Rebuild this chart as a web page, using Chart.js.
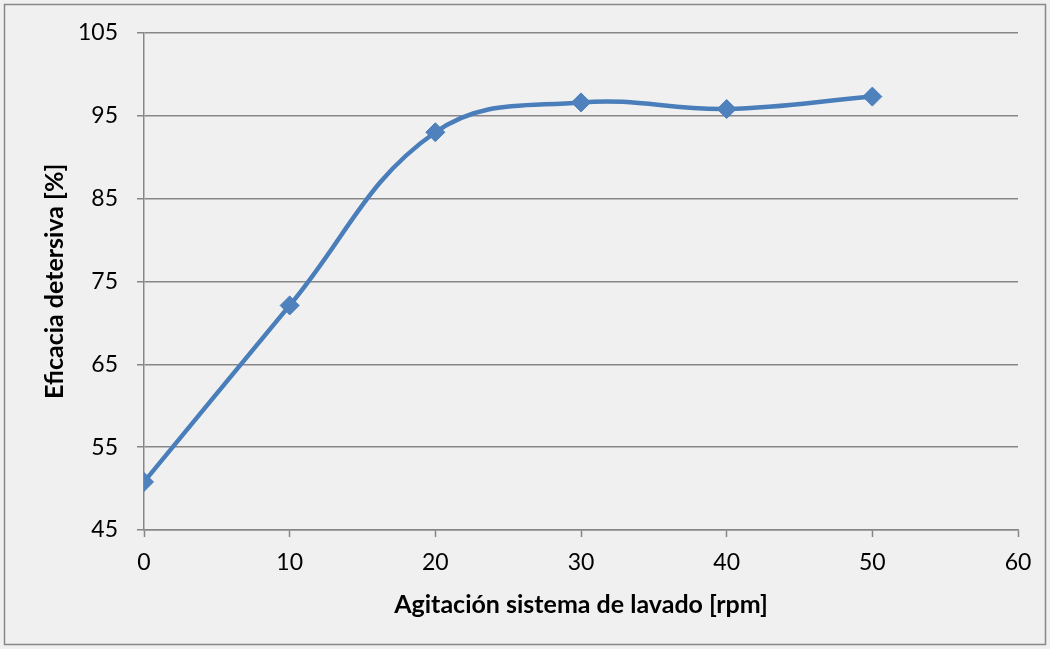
<!DOCTYPE html>
<html>
<head>
<meta charset="utf-8">
<script src="https://cdn.jsdelivr.net/npm/chart.js@4/dist/chart.umd.min.js"></script>
<style>
  html, body { margin: 0; padding: 0; background: #f0f0f0; }
  #wrap { width: 1050px; height: 649px; position: relative; }
</style>
</head>
<body>
<div id="wrap"><canvas id="c" width="1050" height="649"></canvas></div>
<script>
const agitacion = [0, 10, 20, 30, 40, 50];
const eficacia = [50.8, 72.1, 93.0, 96.6, 95.8, 97.3];
const xTitle = 'Agitación sistema de lavado [rpm]';
const yTitle = 'Eficacia detersiva [%]';

const FONT = 'Lato, "Open Sans", sans-serif';
const GRID = '#878787';

const bgPlugin = {
  id: 'bg',
  beforeDraw(chart) {
    const ctx = chart.ctx;
    ctx.save();
    ctx.fillStyle = '#f0f0f0';
    ctx.fillRect(0, 0, chart.width, chart.height);
    ctx.strokeStyle = '#878787';
    ctx.lineWidth = 1.5;
    ctx.strokeRect(4.5, 4.5, 1041, 640);
    ctx.restore();
  }
};

new Chart(document.getElementById('c'), {
  type: 'line',
  data: {
    datasets: [{
      data: agitacion.map((x, i) => ({ x: x, y: eficacia[i] })),
      borderColor: '#4a7ebb',
      backgroundColor: '#4f81bd',
      borderWidth: 4.5,
      tension: 0.4,
      pointStyle: 'rectRot',
      pointRadius: 9.5,
      pointHoverRadius: 9.5,
      pointBorderColor: '#4a7ebb',
      pointBackgroundColor: '#4f81bd',
      pointBorderWidth: 1,
      fill: false
    }]
  },
  options: {
    responsive: false,
    animation: false,
    devicePixelRatio: 1,
    layout: { padding: { left: 0, top: 32, right: 32, bottom: 0 } },
    plugins: { legend: { display: false }, tooltip: { enabled: false } },
    scales: {
      x: {
        type: 'linear',
        min: 0, max: 60,
        ticks: { stepSize: 10, color: '#000', padding: 12, font: { family: FONT, size: 23 } },
        grid: { drawOnChartArea: false, drawTicks: true, tickLength: 7, tickColor: GRID, tickWidth: 1.5 },
        border: { display: true, color: GRID, width: 1.5 },
        title: { display: true, text: xTitle, color: '#000', font: { family: FONT, size: 25, weight: 'bold' }, padding: { top: 0, bottom: 29 } },
        afterFit(s) { s.height = 119; }
      },
      y: {
        min: 45, max: 105,
        ticks: { stepSize: 10, color: '#000', padding: 19, font: { family: FONT, size: 23 } },
        grid: { color: GRID, lineWidth: 1.5, drawTicks: true, tickLength: 7, tickColor: GRID },
        border: { display: true, color: GRID, width: 1.5 },
        title: { display: true, text: yTitle, color: '#000', font: { family: FONT, size: 25, weight: 'bold' }, padding: { top: 40, bottom: 0 } },
        afterFit(s) { s.width = 144; }
      }
    }
  },
  plugins: [bgPlugin]
});
</script>
</body>
</html>
